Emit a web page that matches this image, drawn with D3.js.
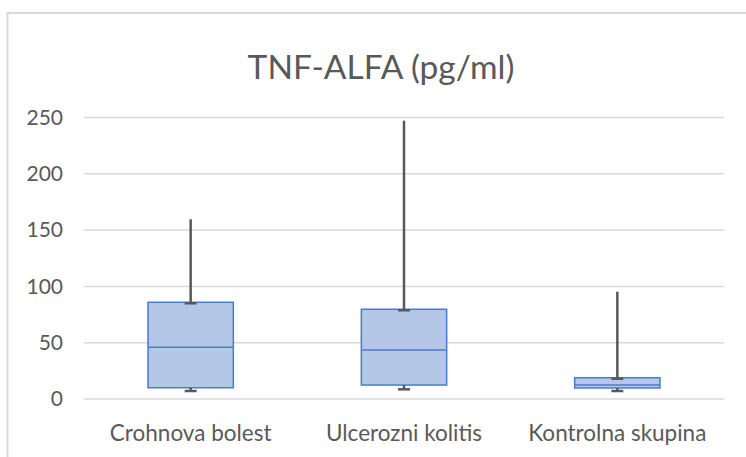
<!DOCTYPE html>
<html>
<head>
<meta charset="utf-8">
<script src="https://cdn.jsdelivr.net/npm/d3@7"></script>
<style>
  body { margin: 0; background: #fff; }
  svg { display: block; }
</style>
</head>
<body>
<div id="chart"></div>
<script>
// box plot values
const categories = ["Crohnova bolest", "Ulcerozni kolitis", "Kontrolna skupina"];
const minVals = [7.1, 8.6, 7.1];
const q1Vals = [10.0, 12.4, 9.8];
const medianVals = [45.9, 43.5, 12.4];
const q3Vals = [85.9, 79.7, 18.9];
const maxVals = [159.6, 247.2, 95.3];
const yTicks = [0, 50, 100, 150, 200, 250];

const width = 746;
const height = 457;
const font = "Lato, 'Open Sans', sans-serif";

const svg = d3.select("#chart")
    .append("svg")
    .attr("width", width)
    .attr("height", height);

// chart frame
svg.append("rect")
    .attr("x", 7.5)
    .attr("y", 13)
    .attr("width", 760)
    .attr("height", 470)
    .attr("fill", "none")
    .attr("stroke", "#d9d9d9")
    .attr("stroke-width", 2);

svg.append("text")
    .attr("x", 381)
    .attr("y", 79)
    .attr("text-anchor", "middle")
    .attr("font-family", font)
    .attr("font-size", "33.5px")
    .attr("fill", "#595959")
    .text("TNF-ALFA (pg/ml)");

const x = d3.scaleBand().domain(categories).range([84, 724]);
const y = d3.scaleLinear().domain([0, 250]).range([399, 117.5]);

// gridlines
svg.append("g")
    .selectAll("line")
    .data(yTicks)
    .join("line")
    .attr("x1", 84)
    .attr("x2", 724)
    .attr("y1", d => y(d))
    .attr("y2", d => y(d))
    .attr("stroke", "#d9d9d9")
    .attr("stroke-width", 1.5);

// y axis labels
const yAxis = svg.append("g")
    .attr("transform", "translate(70,0)")
    .call(d3.axisLeft(y).tickValues(yTicks).tickSize(0).tickPadding(7));
yAxis.select(".domain").remove();
yAxis.selectAll("text")
    .attr("font-family", font)
    .attr("font-size", "21px")
    .attr("fill", "#595959");

// x axis labels
const xAxis = svg.append("g")
    .attr("transform", "translate(0,399)")
    .call(d3.axisBottom(x).tickSize(0).tickPadding(26));
xAxis.select(".domain").remove();
xAxis.selectAll("text")
    .attr("font-family", font)
    .attr("font-size", "22.5px")
    .attr("fill", "#595959");

const boxW = x.bandwidth() * 0.4;
const capW = 12;
const cx = i => x(categories[i]) + x.bandwidth() / 2;
const idx = d3.range(categories.length);

const boxes = svg.append("g");
boxes.selectAll("rect")
    .data(idx)
    .join("rect")
    .attr("x", i => cx(i) - boxW / 2)
    .attr("y", i => y(q3Vals[i]))
    .attr("width", boxW)
    .attr("height", i => y(q1Vals[i]) - y(q3Vals[i]))
    .attr("fill", "#b4c7e7")
    .attr("stroke", "#4a7bd0")
    .attr("stroke-width", 1.5);

boxes.selectAll("line.median")
    .data(idx)
    .join("line")
    .attr("class", "median")
    .attr("x1", i => cx(i) - boxW / 2)
    .attr("x2", i => cx(i) + boxW / 2)
    .attr("y1", i => y(medianVals[i]))
    .attr("y2", i => y(medianVals[i]))
    .attr("stroke", "#4a7bd0")
    .attr("stroke-width", 1.5);

// whiskers
const whiskers = svg.append("g")
    .attr("stroke", "#595959")
    .attr("stroke-width", 2.5);

whiskers.selectAll("line.upper")
    .data(idx)
    .join("line")
    .attr("class", "upper")
    .attr("x1", cx).attr("x2", cx)
    .attr("y1", i => y(maxVals[i]))
    .attr("y2", i => y(q3Vals[i]));

whiskers.selectAll("line.upperCap")
    .data(idx)
    .join("line")
    .attr("class", "upperCap")
    .attr("x1", i => cx(i) - capW / 2)
    .attr("x2", i => cx(i) + capW / 2)
    .attr("y1", i => y(q3Vals[i]) + 1)
    .attr("y2", i => y(q3Vals[i]) + 1);

whiskers.selectAll("line.lower")
    .data(idx)
    .join("line")
    .attr("class", "lower")
    .attr("x1", cx).attr("x2", cx)
    .attr("y1", i => y(q1Vals[i]))
    .attr("y2", i => y(minVals[i]));

whiskers.selectAll("line.lowerCap")
    .data(idx)
    .join("line")
    .attr("class", "lowerCap")
    .attr("x1", i => cx(i) - capW / 2)
    .attr("x2", i => cx(i) + capW / 2)
    .attr("y1", i => y(minVals[i]))
    .attr("y2", i => y(minVals[i]));
</script>
</body>
</html>
